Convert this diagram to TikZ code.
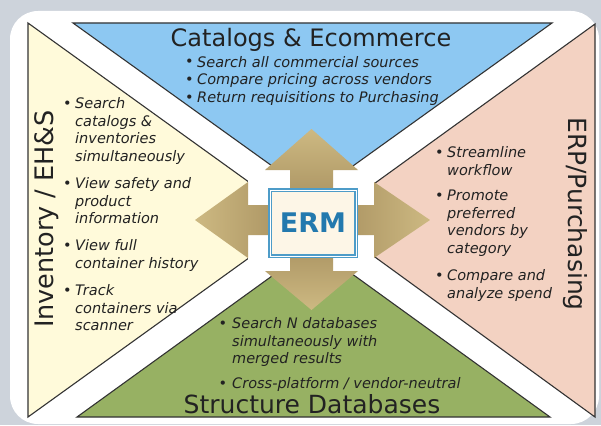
\documentclass[tikz,border=0pt]{standalone}
\usepackage{fontspec}
\setmainfont{DejaVu Sans}
\definecolor{bgc}{HTML}{CDD3DB}
\definecolor{yel}{HTML}{FFFADA}
\definecolor{blu}{HTML}{8DC8F2}
\definecolor{pnk}{HTML}{F3D2C2}
\definecolor{grn}{HTML}{97B163}
\definecolor{triline}{HTML}{333333}
\definecolor{tanl}{HTML}{CDB982}
\definecolor{tand}{HTML}{A08858}
\definecolor{ermfill}{HTML}{FDF6E7}
\definecolor{ermb}{HTML}{4E9CC8}
\definecolor{ermtxt}{HTML}{2379AE}
\definecolor{txt}{HTML}{222222}
\newcommand\bul[5]{%
  \node[bulmark] (#1m) at (#2,#4) {\textbullet};
  \node[bultxt] (#1) at (#3,#4-12.46) {\strut #5};}
\begin{document}
\begin{tikzpicture}[x=1pt,y=-1pt,
  tri/.style={draw=triline, line width=1.1pt, line join=miter},
  bultxt/.style={inner sep=0pt, anchor=north west, align=left, text=txt,
    font=\fontsize{14.5}{17.8}\selectfont\itshape},
  bulmark/.style={inner sep=0pt, anchor=base, text=txt,
    font=\fontsize{14.5}{17.8}\selectfont},
  ttl/.style={inner sep=0pt, anchor=base, text=txt}]
\useasboundingbox (0,0) rectangle (601,425);
\fill[bgc] (0,0) rectangle (601,425);
\fill[white, rounded corners=28pt] (10,11) rectangle (599,424);
% quadrants
\draw[tri, fill=yel] (28,23) -- (28,417) -- (301.6,220) -- cycle;
\draw[tri, fill=blu] (73,23) -- (552,23) -- (312.5,195) -- cycle;
\draw[tri, fill=pnk] (595,24) -- (595,417) -- (324,220) -- cycle;
\draw[tri, fill=grn] (77,417) -- (550,417) -- (313.5,246) -- cycle;
% centre
\fill[white] (248,170) rectangle (374,272);
\shade[top color=tanl, bottom color=tand] (290,223) -- (290,170) -- (265,170) -- (311.5,129) -- (358,170) -- (333,170) -- (333,223) -- cycle;
\shade[top color=tand, bottom color=tanl] (290,223) -- (290,271) -- (265,271) -- (311.5,310) -- (358,271) -- (333,271) -- (333,223) -- cycle;
\shade[left color=tanl, right color=tand] (311,205) -- (248,205) -- (248,182) -- (195,220) -- (248,258) -- (248,235) -- (311,235) -- cycle;
\shade[left color=tand, right color=tanl] (311,205) -- (374,205) -- (374,182) -- (430,220) -- (374,258) -- (374,235) -- (311,235) -- cycle;
\node[draw=ermb, line width=1.5pt, double=white, double distance=1pt, fill=ermfill,
  minimum width=86pt, minimum height=66pt, inner sep=0pt,
  text=ermtxt, font=\fontsize{27}{30}\selectfont\bfseries] (erm) at (313,223) {ERM};
% titles
\node[ttl, font=\fontsize{24}{28}\selectfont] (tcat) at (311,47) {Catalogs \& Ecommerce};
\node[ttl, font=\fontsize{25}{28}\selectfont] (tstr) at (312,413) {Structure Databases};
\node[ttl, rotate=90, font=\fontsize{25.5}{28}\selectfont] (tinv) at (53,219) {Inventory / EH\&S};
\node[ttl, rotate=-90, font=\fontsize{25}{28}\selectfont] (terp) at (568,214) {ERP/Purchasing};
% top bullets
\bul{c1}{189.5}{197}{67}{Search all commercial sources}
\bul{c2}{189.5}{197}{84.7}{Compare pricing across vendors}
\bul{c3}{189.5}{197}{102.4}{Return requisitions to Purchasing}
% left bullets
\bul{i1}{67.5}{75}{108}{Search\\catalogs \&\\inventories\\simultaneously}
\bul{i2}{67.5}{75}{188}{View safety and\\product\\information}
\bul{i3}{67.5}{75}{250}{View full\\container history}
\bul{i4}{67.5}{75}{295}{Track\\containers via\\scanner}
% right bullets
\bul{e1}{439.5}{447}{157}{Streamline\\workflow}
\bul{e2}{439.5}{447}{200}{Promote\\preferred\\vendors by\\category}
\bul{e3}{439.5}{447}{280}{Compare and\\analyze spend}
% bottom bullets
\bul{s1}{223}{232}{328}{Search N databases\\simultaneously with\\merged results}
\bul{s2}{223}{232}{388}{Cross-platform / vendor-neutral}
\end{tikzpicture}
\end{document}
